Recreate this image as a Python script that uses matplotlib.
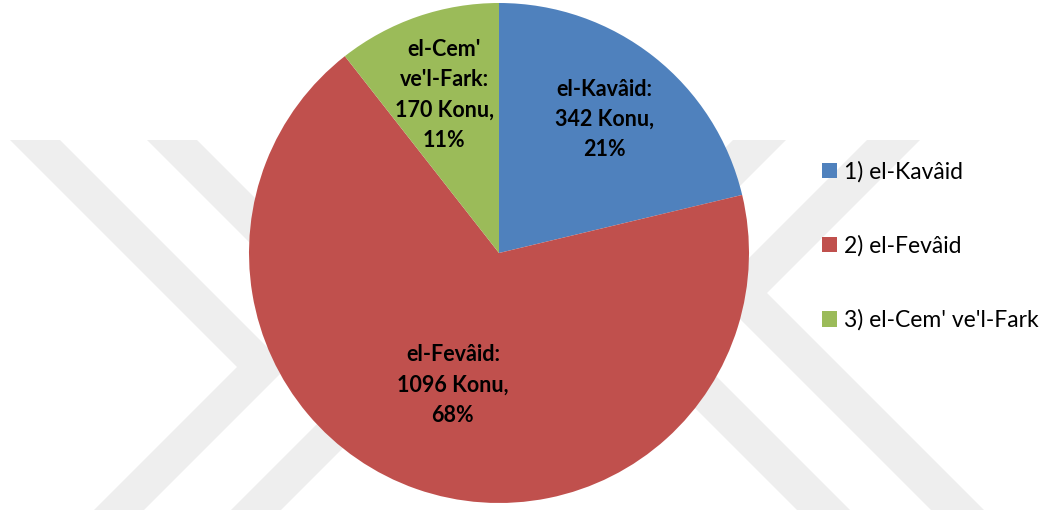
import matplotlib.pyplot as plt
import numpy as np
from matplotlib.patches import Polygon

# data
names = ["el-Kavâid", "el-Fevâid", "el-Cem'\nve'l-Fark"]
legend_labels = ["1) el-Kavâid", "2) el-Fevâid", "3) el-Cem' ve'l-Fark"]
counts = [342, 1096, 170]
colors = ["#4F81BD", "#C0504D", "#9BBB59"]
label_r = [0.68, 0.56, 0.67]  # radial position of each label

W, H = 1056, 516
fig = plt.figure(figsize=(W / 100, H / 100), dpi=100)
fig.patch.set_facecolor("white")


def px(pts):
    """pixel coords (origin top-left) -> figure fraction"""
    return [(x / W, 1 - y / H) for x, y in pts]


# faint watermark chevrons in the background
left = [(10, 140), (60, 140), (287, 367), (144, 510), (94, 510), (237, 367)]
right = [(867, 140), (920, 140), (767, 293), (984, 510), (931, 510), (714, 293)]
for dx, shape in [(0, left), (137, left), (0, right), (-134, right)]:
    pts = [(x + dx, y) for x, y in shape]
    fig.patches.append(Polygon(px(pts), closed=True, transform=fig.transFigure,
                               facecolor="#eeeeee", edgecolor="none", zorder=-1))

ax = fig.add_axes([249 / W, 13 / H, 500 / W, 500 / H])
ax.set_facecolor("none")
ax.set_zorder(1)
wedges, _ = ax.pie(counts, colors=colors, startangle=90, counterclock=False,
                   radius=1, wedgeprops=dict(linewidth=0))
ax.set_xlim(-1, 1)
ax.set_ylim(-1, 1)
ax.set_aspect("equal")
ax.axis("off")

total = sum(counts)
for w, name, n, r in zip(wedges, names, counts, label_r):
    ang = np.deg2rad((w.theta1 + w.theta2) / 2)
    txt = f"{name}:\n{n} Konu,\n{round(100 * n / total)}%"
    ax.text(r * np.cos(ang), r * np.sin(ang), txt, ha="center", va="center",
            fontsize=15.5, fontweight="bold", family="Lato", linespacing=1.55,
            color="black")

leg = fig.legend(wedges, legend_labels, loc="center left",
                 bbox_to_anchor=(822 / W, 1 - 246 / H), frameon=False,
                 prop=dict(family="Lato", size=16.5), handlelength=0.65,
                 handleheight=0.65, handletextpad=0.3, labelspacing=2.3,
                 borderpad=0, borderaxespad=0)
leg.set_zorder(2)

fig.savefig("out.png", dpi=100, facecolor="white")
